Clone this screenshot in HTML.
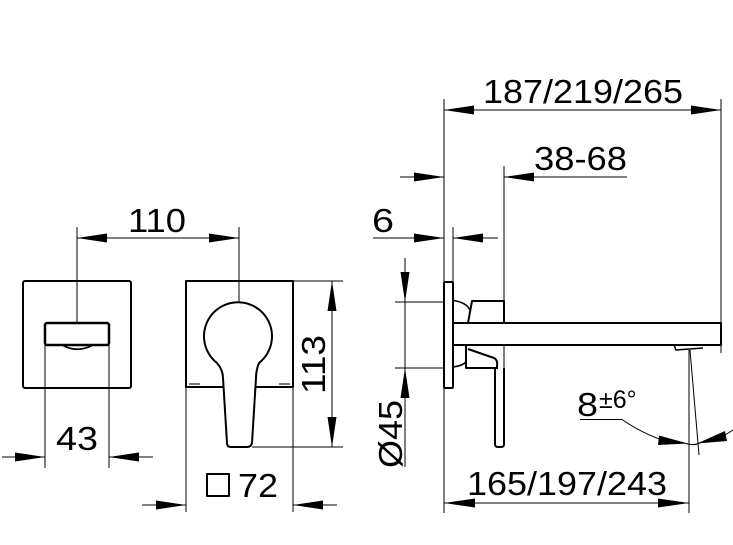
<!DOCTYPE html>
<html><head><meta charset="utf-8"><style>
html,body{margin:0;padding:0;background:#fff;}
svg{display:block;}
text{font-family:"Liberation Sans",Arial,sans-serif;fill:#000;}
</style></head><body>
<svg width="733" height="545" viewBox="0 0 733 545" xmlns="http://www.w3.org/2000/svg">
<g fill="none" stroke="#000" stroke-width="1">
  <!-- LEFT VIEW dims -->
  <line x1="77" y1="227" x2="77" y2="323"/>
  <line x1="77" y1="238" x2="239" y2="238"/>
  <line x1="239" y1="227" x2="239" y2="302"/>
  <line x1="45" y1="345" x2="45" y2="468"/>
  <line x1="109" y1="345" x2="109" y2="468"/>
  <line x1="2" y1="457" x2="45" y2="457"/>
  <line x1="109" y1="457" x2="153" y2="457"/>
  <!-- MIDDLE VIEW dims -->
  <line x1="293" y1="281" x2="343" y2="281"/>
  <line x1="252" y1="447" x2="343" y2="447"/>
  <line x1="332" y1="281" x2="332" y2="447"/>
  <line x1="186" y1="387" x2="186" y2="512"/>
  <line x1="293" y1="387" x2="293" y2="512"/>
  <line x1="142" y1="505" x2="186" y2="505"/>
  <line x1="293" y1="505" x2="337" y2="505"/>
  <!-- RIGHT VIEW dims -->
  <line x1="444" y1="99" x2="444" y2="513"/>
  <line x1="721" y1="99" x2="721" y2="353"/>
  <line x1="444" y1="110" x2="721" y2="110"/>
  <line x1="400" y1="177" x2="444" y2="177"/>
  <line x1="504" y1="177" x2="627" y2="177"/>
  <line x1="504" y1="166" x2="504" y2="301"/>
  <line x1="373" y1="238" x2="444" y2="238"/>
  <line x1="453" y1="238" x2="498" y2="238"/>
  <line x1="453" y1="227" x2="453" y2="282"/>
  <line x1="395" y1="302" x2="444" y2="302"/>
  <line x1="395" y1="368" x2="444" y2="368"/>
  <line x1="405" y1="258" x2="405" y2="467"/>
  <line x1="504" y1="345" x2="504" y2="368"/>
  <line x1="689" y1="350" x2="689" y2="513"/>
  <line x1="690" y1="350" x2="699" y2="455"/>
  <line x1="444" y1="503" x2="689" y2="503"/>
  <!-- angle leader -->
  <path d="M580 419.5 L622 419.5 Q640 432 662 440"/>
  <path d="M686 443.5 Q694 446 700 443"/>
  <line x1="725" y1="435" x2="733" y2="430"/>
</g>
<!-- arrowheads -->
<g fill="#000" stroke="none">
  <polygon points="77,238 107,233.5 107,242.5"/>
  <polygon points="239,238 209,233.5 209,242.5"/>
  <polygon points="45,457 15,452.5 15,461.5"/>
  <polygon points="109,457 139,452.5 139,461.5"/>
  <polygon points="332,281 327.5,311 336.5,311"/>
  <polygon points="332,447 327.5,417 336.5,417"/>
  <polygon points="186,505 156,500.5 156,509.5"/>
  <polygon points="293,505 323,500.5 323,509.5"/>
  <polygon points="444,110 474,105.5 474,114.5"/>
  <polygon points="721,110 691,105.5 691,114.5"/>
  <polygon points="444,177 414,172.5 414,181.5"/>
  <polygon points="504,177 534,172.5 534,181.5"/>
  <polygon points="444,238 414,233.5 414,242.5"/>
  <polygon points="453,238 483,233.5 483,242.5"/>
  <polygon points="405,302 400.5,272 409.5,272"/>
  <polygon points="405,368 400.5,398 409.5,398"/>
  <polygon points="444,503 475,498.5 475,507.5"/>
  <polygon points="689,503 658,498.5 658,507.5"/>
  <polygon points="688,443.5 659,435.5 658,445"/>
  <polygon points="697,443.5 725,431 727,441"/>
</g>
<!-- object outlines -->
<g fill="none" stroke="#000" stroke-width="2" stroke-linejoin="round">
  <rect x="23" y="281" width="108" height="107" rx="2"/>
  <rect x="45" y="323" width="64" height="22" rx="2" stroke-width="2.5"/>
  <path d="M63 345.5 Q77 353 92 345.5" stroke-width="1.8"/>
  <path d="M223 387 L186 387 L186 281 L293 281 L293 387 L256 387"/>
  <path d="M223 378 Q223 370 217 363 A34 34 0 1 1 259 363 Q256 370 256 378 L252 443 Q251 447 247 447 L231 447 Q227 447 227 443 Z"/>
  <rect x="444" y="282" width="9" height="106" rx="1"/>
  <path d="M454 323 L721 323 L721 345 L454 345"/>
  <path d="M468 323 L472 301 L504 301 L504 323"/>
  <path d="M453 300.5 Q466 302 470 310" stroke-width="1.6"/>
  <path d="M466 345 L466 368 L496 368"/>
  <path d="M468 349 L494 358 Q498 360 497 366 L497 369"/>
  <path d="M453 367 Q462 366 466 362" stroke-width="1.6"/>
  <path d="M495 368 L495 444 Q495 447 498 447 L501 447 Q504 447 504 444 L504 368"/>
  <path d="M674 345 L676 350 L703 348" stroke-width="1.5"/>
  <rect x="207" y="474" width="22" height="22"/>
</g>
<g stroke="#777" stroke-width="2">
  <line x1="189" y1="384" x2="200" y2="384"/>
  <line x1="279" y1="384" x2="290" y2="384"/>
</g>
<!-- texts -->
<g font-size="33">
  <text x="483" y="103" textLength="200" lengthAdjust="spacingAndGlyphs">187/219/265</text>
  <text x="534" y="170" textLength="93" lengthAdjust="spacingAndGlyphs">38-68</text>
  <text x="372" y="232" textLength="22" lengthAdjust="spacingAndGlyphs">6</text>
  <text x="128" y="232" textLength="58" lengthAdjust="spacingAndGlyphs">110</text>
  <text x="56" y="450" textLength="42" lengthAdjust="spacingAndGlyphs">43</text>
  <text x="238" y="497" textLength="40" lengthAdjust="spacingAndGlyphs">72</text>
  <text x="467" y="495" textLength="200" lengthAdjust="spacingAndGlyphs">165/197/243</text>
  <text transform="translate(325,394) rotate(-90)" textLength="59" lengthAdjust="spacingAndGlyphs">113</text>
  <text transform="translate(402,468) rotate(-90)" textLength="68" lengthAdjust="spacingAndGlyphs">Ø45</text>
  <text x="577" y="416" textLength="21" lengthAdjust="spacingAndGlyphs">8</text>
</g>
<text x="599" y="408" font-size="25">±6°</text>
</svg>
</body></html>
